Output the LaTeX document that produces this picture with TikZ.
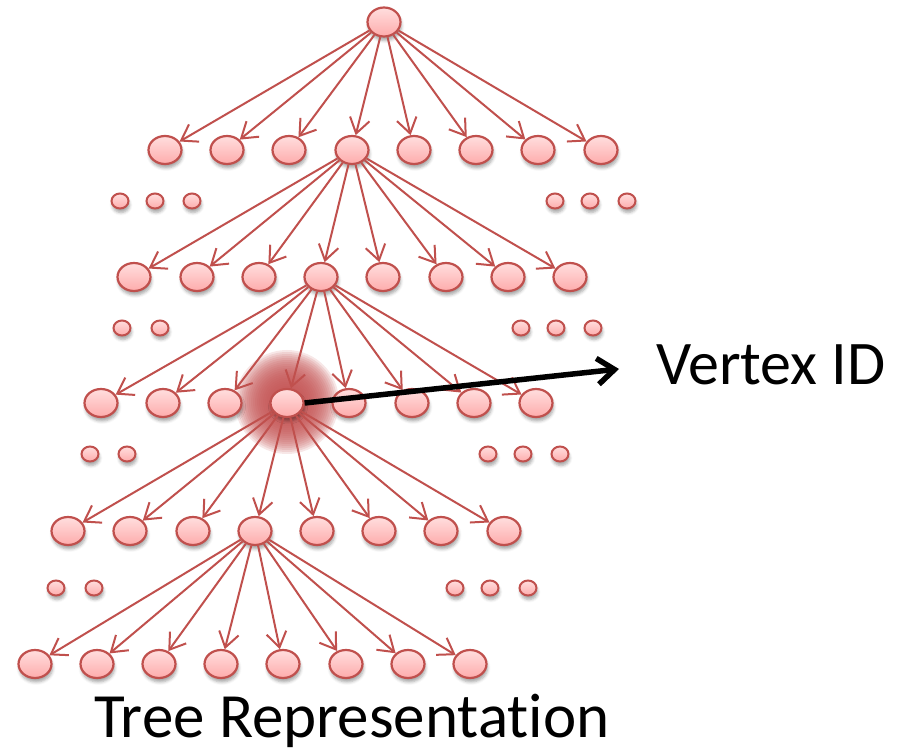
\documentclass[tikz,border=0pt]{standalone}
\usepackage{fontspec}
\setmainfont[RawFeature={-liga;-calt;-dlig}]{Carlito}
\usetikzlibrary{arrows.meta,shapes.geometric,shadows.blur}
\definecolor{edgered}{RGB}{192,80,77}
\definecolor{ntop}{RGB}{255,222,222}
\definecolor{nbot}{RGB}{254,172,172}
\definecolor{glowc}{RGB}{196,84,84}
\begin{document}
\begin{tikzpicture}[x=1pt,y=-1pt,
  vnode/.style={ellipse, draw=edgered, line width=2.2pt, top color=ntop, bottom color=nbot,
    minimum width=33pt, minimum height=28pt, inner sep=0pt,
    blur shadow={shadow xshift=1pt, shadow yshift=-4pt, shadow blur radius=3pt, shadow opacity=35}},
  dnode/.style={vnode, minimum width=17pt, minimum height=15pt, line width=2pt},
  tedge/.style={draw=edgered, line width=2pt, -{Straight Barb[length=15pt,width=20pt]}},
  lbl/.style={anchor=base west, inner sep=0pt, text=black},
  glowring/.style={fill=glowc, opacity=0.14}
]
\useasboundingbox (0,0) rectangle (898,751);
% glow under highlighted vertex
\foreach \rr in {52,50,...,16}
  \fill[glowring] (287,402) circle[radius=\rr pt];
% root
\node[vnode, minimum height=29pt] (r) at (384,22) {};
% level 1
\foreach \x [count=\i] in {165,227,289,352,414,476,538,601}
  \node[vnode] (a\i) at (\x,150) {};
\foreach \x [count=\i] in {120,155,192,555,590,627}
  \node[dnode] (da\i) at (\x,201) {};
% level 2
\foreach \x [count=\i] in {134,197,259,321,383,446,508,570}
  \node[vnode] (b\i) at (\x,277) {};
\foreach \x [count=\i] in {122,160,521,556,593}
  \node[dnode] (db\i) at (\x,328) {};
% level 3
\foreach \x [count=\i] in {101,163,225,287,349,412,474,536}
  \node[vnode] (c\i) at (\x,403) {};
\foreach \x [count=\i] in {90,127,488,523,560}
  \node[dnode] (dc\i) at (\x,454) {};
% level 4
\foreach \x [count=\i] in {68,130,193,255,317,379,441,504}
  \node[vnode] (d\i) at (\x,531) {};
\foreach \x [count=\i] in {56,94,455,490,528}
  \node[dnode] (dd\i) at (\x,588) {};
% level 5
\foreach \x [count=\i] in {35,97,159,221,283,346,408,470}
  \node[vnode] (e\i) at (\x,664) {};
% edges
\foreach \i in {1,...,8} {
  \draw[tedge] (r) -- (a\i);
  \draw[tedge] (a4) -- (b\i);
  \draw[tedge] (b4) -- (c\i);
  \draw[tedge] (c4) -- (d\i);
  \draw[tedge] (d4) -- (e\i);
}
% labels
\node[lbl, font=\fontsize{62}{68}\selectfont] (vid) at (656,385) {Vertex ID};
\node[lbl, font=\fontsize{63}{70}\selectfont] (tree) at (94,737) {Tree Representat\kern0pt ion};
% pointer arrow
\coordinate (vtip) at (619,369);
\draw[line width=5.5pt, -{Straight Barb[length=17pt,width=26pt]}] (c4.east) -- (vtip);
\end{tikzpicture}
\end{document}
